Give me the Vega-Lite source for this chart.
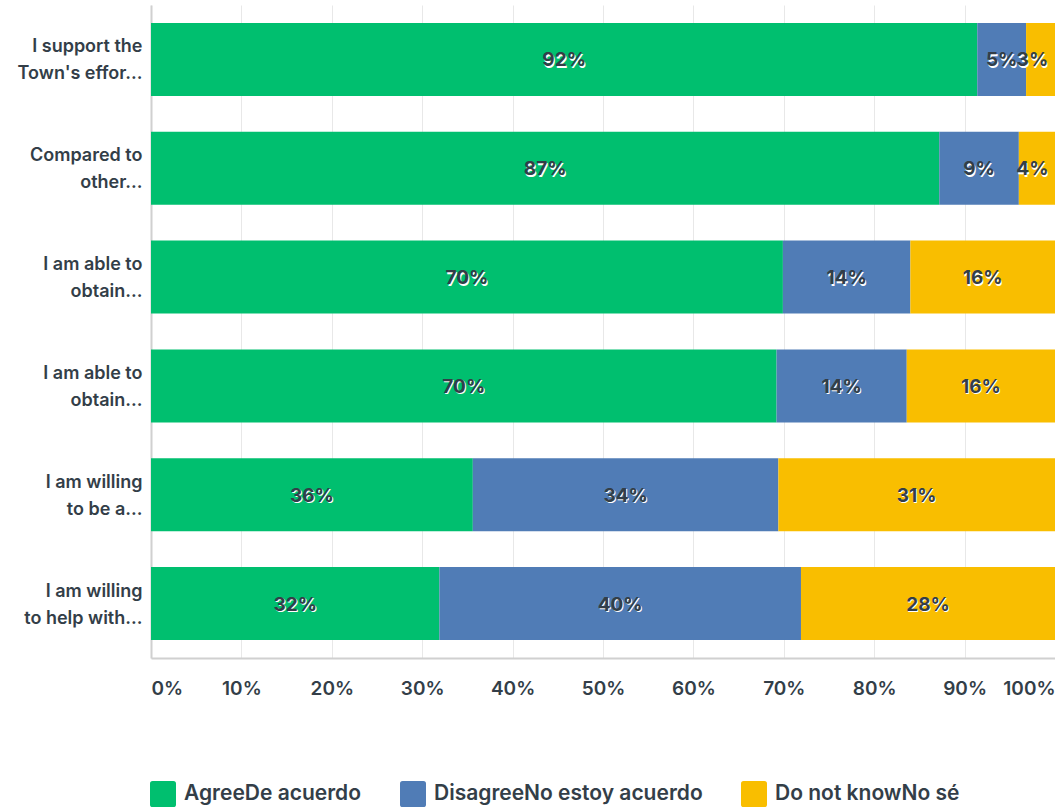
{
  "$schema": "https://vega.github.io/schema/vega-lite/v6.json",
  "width": 904,
  "height": 653,
  "autosize": "none",
  "padding": {"left": 151, "top": 5, "right": 0, "bottom": 152},
  "background": "white",
  "config": {
    "font": "Inter",
    "view": {"stroke": null}
  },
  "data": {
    "values": [
      {"q": "I support the|Town's effor...", "qi": 1, "resp": "AgreeDe acuerdo", "ri": 1, "pct": 0.914, "label": "92%"},
      {"q": "I support the|Town's effor...", "qi": 1, "resp": "DisagreeNo estoy acuerdo", "ri": 2, "pct": 0.054, "label": "5%"},
      {"q": "I support the|Town's effor...", "qi": 1, "resp": "Do not knowNo sé", "ri": 3, "pct": 0.032, "label": "3%"},
      {"q": "Compared to|other...", "qi": 2, "resp": "AgreeDe acuerdo", "ri": 1, "pct": 0.872, "label": "87%"},
      {"q": "Compared to|other...", "qi": 2, "resp": "DisagreeNo estoy acuerdo", "ri": 2, "pct": 0.088, "label": "9%"},
      {"q": "Compared to|other...", "qi": 2, "resp": "Do not knowNo sé", "ri": 3, "pct": 0.04, "label": "4%"},
      {"q": "I am able to|obtain...", "qi": 3, "resp": "AgreeDe acuerdo", "ri": 1, "pct": 0.699, "label": "70%"},
      {"q": "I am able to|obtain...", "qi": 3, "resp": "DisagreeNo estoy acuerdo", "ri": 2, "pct": 0.141, "label": "14%"},
      {"q": "I am able to|obtain...", "qi": 3, "resp": "Do not knowNo sé", "ri": 3, "pct": 0.16, "label": "16%"},
      {"q": "I am able to |obtain...", "qi": 4, "resp": "AgreeDe acuerdo", "ri": 1, "pct": 0.692, "label": "70%"},
      {"q": "I am able to |obtain...", "qi": 4, "resp": "DisagreeNo estoy acuerdo", "ri": 2, "pct": 0.144, "label": "14%"},
      {"q": "I am able to |obtain...", "qi": 4, "resp": "Do not knowNo sé", "ri": 3, "pct": 0.164, "label": "16%"},
      {"q": "I am willing|to be a...", "qi": 5, "resp": "AgreeDe acuerdo", "ri": 1, "pct": 0.356, "label": "36%"},
      {"q": "I am willing|to be a...", "qi": 5, "resp": "DisagreeNo estoy acuerdo", "ri": 2, "pct": 0.338, "label": "34%"},
      {"q": "I am willing|to be a...", "qi": 5, "resp": "Do not knowNo sé", "ri": 3, "pct": 0.306, "label": "31%"},
      {"q": "I am willing|to help with...", "qi": 6, "resp": "AgreeDe acuerdo", "ri": 1, "pct": 0.319, "label": "32%"},
      {"q": "I am willing|to help with...", "qi": 6, "resp": "DisagreeNo estoy acuerdo", "ri": 2, "pct": 0.4, "label": "40%"},
      {"q": "I am willing|to help with...", "qi": 6, "resp": "Do not knowNo sé", "ri": 3, "pct": 0.281, "label": "28%"}
    ]
  },
  "transform": [
    {"stack": "pct", "groupby": ["q"], "sort": [{"field": "ri", "order": "ascending"}], "as": ["x0", "x1"]},
    {"calculate": "min((datum.x0 + datum.x1) / 2, 0.975)", "as": "xm"}
  ],
  "encoding": {
    "y": {
      "field": "q",
      "type": "nominal",
      "sort": {"field": "qi", "order": "ascending"},
      "scale": {"paddingInner": 0.33, "paddingOuter": 0.165},
      "axis": {
        "title": null,
        "labelExpr": "split(datum.value, '|')",
        "labelFontSize": 18,
        "labelFontWeight": 600,
        "labelColor": "#333e48",
        "labelLineHeight": 27,
        "labelOffset": -12,
        "labelPadding": 9,
        "ticks": false,
        "domain": true,
        "domainColor": "#d0d0d0",
        "domainWidth": 2,
        "grid": false
      }
    }
  },
  "layer": [
    {
      "mark": {"type": "bar"},
      "encoding": {
        "x": {
          "field": "x0",
          "type": "quantitative",
          "scale": {"domain": [0, 1], "nice": false},
          "axis": {
            "title": null,
            "format": ".0%",
            "values": [0, 0.1, 0.2, 0.3, 0.4, 0.5, 0.6, 0.7, 0.8, 0.9, 1],
            "labelFontSize": 19,
            "labelFontWeight": 600,
            "labelColor": "#333e48",
            "labelPadding": 21,
            "ticks": false,
            "domainColor": "#d0d0d0",
            "domainWidth": 2,
            "gridColor": "#e8e8e8",
            "gridWidth": 1
          }
        },
        "x2": {"field": "x1"},
        "color": {
          "field": "resp",
          "type": "nominal",
          "sort": ["AgreeDe acuerdo", "DisagreeNo estoy acuerdo", "Do not knowNo sé"],
          "scale": {
            "domain": ["AgreeDe acuerdo", "DisagreeNo estoy acuerdo", "Do not knowNo sé"],
            "range": ["#00bf6f", "#507cb6", "#f9be00"]
          },
          "legend": {
            "title": null,
            "orient": "none",
            "direction": "horizontal",
            "legendX": -1,
            "legendY": 776,
            "symbolType": "M-0.8,-1L0.8,-1Q1,-1,1,-0.8L1,0.8Q1,1,0.8,1L-0.8,1Q-1,1,-1,0.8L-1,-0.8Q-1,-1,-0.8,-1Z",
            "symbolSize": 676,
            "symbolStrokeWidth": 0,
            "symbolOpacity": 1,
            "labelFontSize": 21,
            "labelFontWeight": 600,
            "labelColor": "#333e48",
            "labelOffset": 8,
            "columnPadding": 38,
            "labelLimit": 400
          }
        }
      }
    },
    {
      "mark": {"type": "text", "fontSize": 19, "fontWeight": "bold", "color": "white", "dx": 1, "dy": 2.5},
      "encoding": {
        "x": {"field": "xm", "type": "quantitative"},
        "text": {"field": "label"}
      }
    },
    {
      "mark": {"type": "text", "fontSize": 19, "fontWeight": "bold", "color": "#333e48", "dy": 1},
      "encoding": {
        "x": {"field": "xm", "type": "quantitative"},
        "text": {"field": "label"}
      }
    }
  ]
}
